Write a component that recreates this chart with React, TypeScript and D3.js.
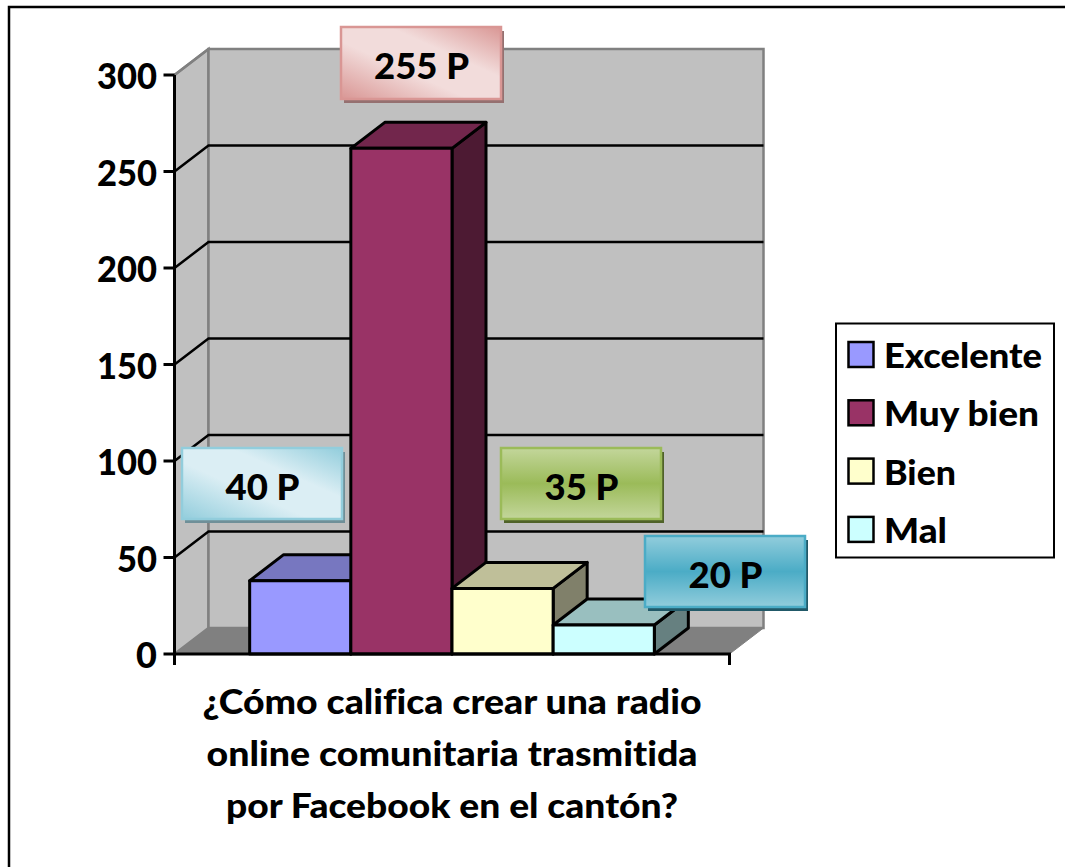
import React from "react";
import * as d3 from "d3";

const categories = ["Excelente", "Muy bien", "Bien", "Mal"];
const barValues = [38, 262, 34, 15];
const frontColors = ["#9999FF", "#993366", "#FFFFCC", "#CCFFFF"];
const topColors = ["#7777C0", "#72264C", "#BFBF99", "#99BFBF"];
const sideColors = ["#5C5C99", "#4D1A33", "#80806A", "#668080"];
const yTicks = [0, 50, 100, 150, 200, 250, 300];
const titleLines = [
  "¿Cómo califica crear una radio",
  "online comunitaria trasmitida",
  "por Facebook en el cantón?",
];
const titleWidths = [499, 491, 452];
const legendWidths = [158, 155, 72, 63];
const labelTexts = ["40 P", "255 P", "35 P", "20 P"];

const FONT = "Lato, Carlito, 'Open Sans', sans-serif";
const DX = 34;
const DY = -26;

const y = d3.scaleLinear().domain([0, 300]).range([654, 75]);
const x = d3.scaleBand<string>().domain(categories).range([174.5, 729.5]).paddingInner(0).paddingOuter(0.743);

const labelBoxes = [
  { x: 182, y: 448, w: 160, h: 71, grad: "gBlueD", stroke: "#92CDDC", shadow: "#6F8F98" },
  { x: 341, y: 27, w: 160, h: 72, grad: "gRed", stroke: "#D99694", shadow: "#957070" },
  { x: 501, y: 448, w: 160, h: 71, grad: "gGreen", stroke: "#9BBB59", shadow: "#4F6228" },
  { x: 645, y: 536, w: 160, h: 71, grad: "gTeal", stroke: "#4BACC6", shadow: "#215968" },
];

const poly = (pts: number[][]) => pts.map((p) => p.join(",")).join(" ");

export default function App() {
  const x0 = 174.5;
  const x1 = 729.5;
  const y0 = y(0);
  const yTop = y(300);
  return (
    <svg
      width={1065}
      height={867}
      style={{ position: "absolute", left: 0, top: 0, background: "#fff", fontVariantLigatures: "none" }}
      fontFamily={FONT}
      fontWeight={900}
    >
      <defs>
        <linearGradient id="gRed" x1="0" y1="1" x2="1" y2="0">
          <stop offset="0" stopColor="#D99694" />
          <stop offset="0.4" stopColor="#F2DCDB" />
          <stop offset="0.65" stopColor="#F2DCDB" />
          <stop offset="1" stopColor="#D99694" />
        </linearGradient>
        <linearGradient id="gBlueD" x1="0" y1="1" x2="1" y2="0">
          <stop offset="0" stopColor="#92CDDC" />
          <stop offset="0.4" stopColor="#DBEEF4" />
          <stop offset="0.65" stopColor="#DBEEF4" />
          <stop offset="1" stopColor="#92CDDC" />
        </linearGradient>
        <linearGradient id="gGreen" x1="0" y1="0" x2="0" y2="1">
          <stop offset="0" stopColor="#C3D69B" />
          <stop offset="0.5" stopColor="#9BBB59" />
          <stop offset="1" stopColor="#C3D69B" />
        </linearGradient>
        <linearGradient id="gTeal" x1="0" y1="0" x2="0" y2="1">
          <stop offset="0" stopColor="#92CDDC" />
          <stop offset="0.5" stopColor="#4BACC6" />
          <stop offset="1" stopColor="#92CDDC" />
        </linearGradient>
      </defs>

      {/* outer frame: only the top and left edges are visible */}
      <path d="M1065,7H9V867" fill="none" stroke="#000" strokeWidth={2.5} />

      {/* walls */}
      <polygon points={poly([[x0, yTop], [x0 + DX, yTop + DY], [x0 + DX, y0 + DY], [x0, y0]])} fill="#C0C0C0" stroke="#808080" strokeWidth={2.5} />
      <rect x={x0 + DX} y={yTop + DY} width={x1 - x0} height={y0 - yTop} fill="#C0C0C0" stroke="#808080" strokeWidth={2.5} />
      <polygon points={poly([[x0, y0], [x0 + DX, y0 + DY], [x1 + DX, y0 + DY], [x1, y0]])} fill="#808080" stroke="#808080" strokeWidth={1} />

      {/* gridlines */}
      {yTicks.filter((t) => t > 0 && t < 300).map((t) => (
        <path key={t} d={`M${x0},${y(t)}L${x0 + DX},${y(t) + DY}H${x1 + DX}`} fill="none" stroke="#000" strokeWidth={2.5} />
      ))}
      <path d={`M${x0},${yTop}L${x0 + DX},${yTop + DY}`} fill="none" stroke="#808080" strokeWidth={2.5} />

      {/* bars */}
      {categories.map((c, i) => {
        const bx = x(c)!;
        const bw = x.bandwidth();
        const by = y(barValues[i]);
        return (
          <g key={c} stroke="#000" strokeWidth={3} strokeLinejoin="round">
            <polygon points={poly([[bx + bw, by], [bx + bw + DX, by + DY], [bx + bw + DX, y0 + DY], [bx + bw, y0]])} fill={sideColors[i]} />
            <polygon points={poly([[bx, by], [bx + DX, by + DY], [bx + bw + DX, by + DY], [bx + bw, by]])} fill={topColors[i]} />
            <rect x={bx} y={by} width={bw} height={y0 - by} fill={frontColors[i]} />
          </g>
        );
      })}

      {/* axes */}
      <path d={`M${x0},${yTop}V${y0 + 11}M${x0},${y0}H${x1}V${y0 + 11}`} fill="none" stroke="#000" strokeWidth={3} />
      {yTicks.map((t) => (
        <g key={t}>
          <line x1={x0 - 11} x2={x0} y1={y(t)} y2={y(t)} stroke="#000" strokeWidth={3} />
          <text x={157} y={y(t) + 14} textAnchor="end" fontSize={36} fill="#000" textLength={t === 0 ? undefined : t < 100 ? 40 : 60} lengthAdjust="spacingAndGlyphs">{t}</text>
        </g>
      ))}

      {/* category title */}
      {titleLines.map((l, i) => (
        <text key={l} x={452} y={713.5 + i * 52} textAnchor="middle" fontSize={35} fill="#000" textLength={titleWidths[i]} lengthAdjust="spacingAndGlyphs">{l}</text>
      ))}

      {/* value callouts */}
      {labelBoxes.map((b, i) => (
        <g key={labelTexts[i]}>
          <rect x={b.x + 3} y={b.y + 4} width={b.w} height={b.h} fill={b.shadow} />
          <rect x={b.x} y={b.y} width={b.w} height={b.h} fill={`url(#${b.grad})`} stroke={b.stroke} strokeWidth={2.5} />
          <text x={b.x + b.w / 2 + 0.5} y={b.y + b.h / 2 + 16} textAnchor="middle" fontSize={36} fill="#000" textLength={i === 1 ? 95 : 74} lengthAdjust="spacingAndGlyphs">{labelTexts[i]}</text>
        </g>
      ))}

      {/* legend */}
      <rect x={836} y={323.5} width={218} height={234} fill="#fff" stroke="#000" strokeWidth={2} />
      {categories.map((c, i) => (
        <g key={c}>
          <rect x={848.5} y={342 + i * 58.3} width={25} height={25} fill={frontColors[i]} stroke="#000" strokeWidth={2.5} />
          <text x={884} y={368 + i * 58.3} fontSize={35} fill="#000" textLength={legendWidths[i]} lengthAdjust="spacingAndGlyphs">{c}</text>
        </g>
      ))}
    </svg>
  );
}
